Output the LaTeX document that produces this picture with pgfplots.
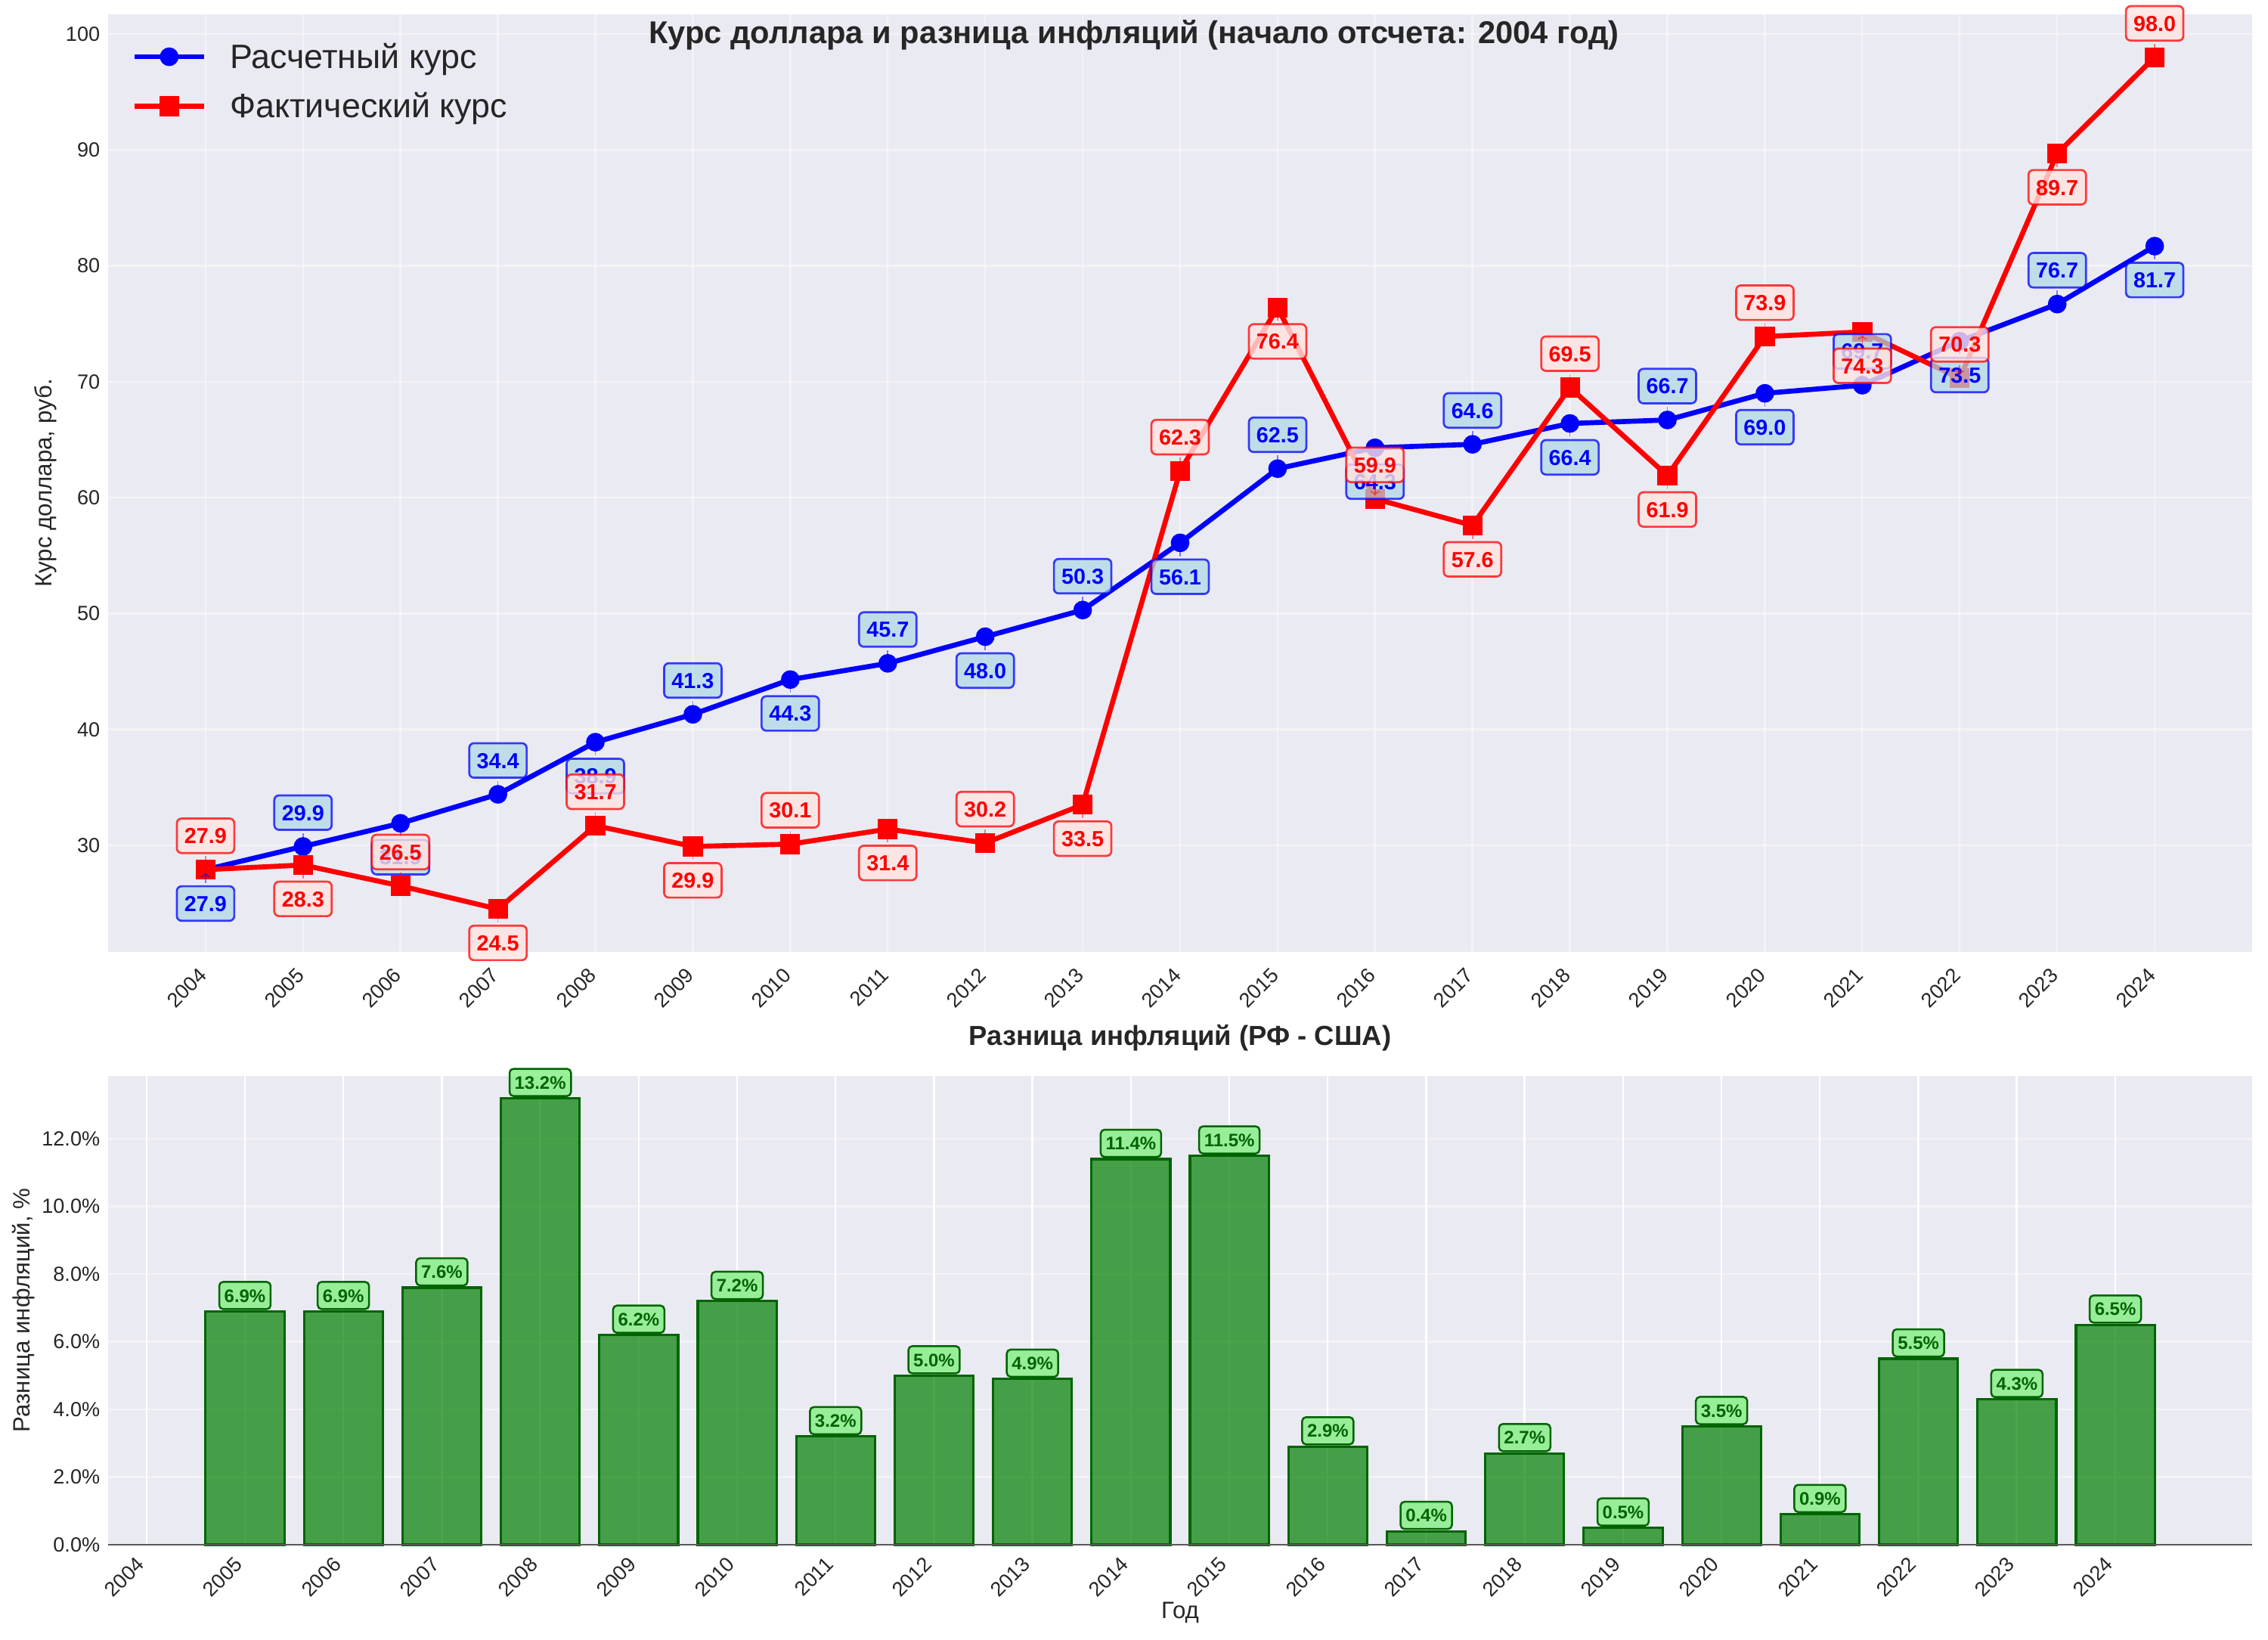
\documentclass[border=0pt]{standalone}
\usepackage{fontspec}
\setmainfont{Liberation Sans}
\usepackage{pgfplots}
\usepackage{pgfplotstable}
\pgfplotsset{compat=1.18}
\usetikzlibrary{arrows.meta}
\definecolor{bgc}{HTML}{EAEAF2}
\definecolor{tickc}{HTML}{262626}
\definecolor{lblue}{HTML}{ADD8E6}
\definecolor{mrose}{HTML}{FFE4E1}
\definecolor{lgreen}{HTML}{90EE90}
\definecolor{dgreen}{HTML}{006400}
\definecolor{mgreen}{HTML}{008000}

\pgfplotstableread{
year calc fact bpos rpos
2004 27.9 27.9 -1 1
2005 29.9 28.3 1 -1
2006 31.9 26.5 -1 1
2007 34.4 24.5 1 -1
2008 38.9 31.7 -1 1
2009 41.3 29.9 1 -1
2010 44.3 30.1 -1 1
2011 45.7 31.4 1 -1
2012 48.0 30.2 -1 1
2013 50.3 33.5 1 -1
2014 56.1 62.3 -1 1
2015 62.5 76.4 1 -1
2016 64.3 59.9 -1 1
2017 64.6 57.6 1 -1
2018 66.4 69.5 -1 1
2019 66.7 61.9 1 -1
2020 69.0 73.9 -1 1
2021 69.7 74.3 1 -1
2022 73.5 70.3 -1 1
2023 76.7 89.7 1 -1
2024 81.7 98.0 -1 1
}\ratedata

\pgfplotstableread{
year diff
2005 6.9
2006 6.9
2007 7.6
2008 13.2
2009 6.2
2010 7.2
2011 3.2
2012 5.0
2013 4.9
2014 11.4
2015 11.5
2016 2.9
2017 0.4
2018 2.7
2019 0.5
2020 3.5
2021 0.9
2022 5.5
2023 4.3
2024 6.5
}\diffdata

\tikzset{
  lbl/.style={anchor=center, font=\bfseries\fontsize{13.8}{16}\selectfont,
    rounded corners=3pt, inner xsep=4.8pt, inner ysep=6pt,
    text height=9.9pt, text depth=0pt, line width=1.3pt, text opacity=1},
}
\pgfplotsset{
  common/.style={
    scale only axis, anchor=south west,
    axis background/.style={fill=bgc},
    axis line style={draw=none}, major tick length=0pt,
    tick label style={font=\fontsize{13}{15}\selectfont, text=tickc},
    /pgf/number format/assume math mode=true,
    /pgf/number format/1000 sep={},
    xticklabel style={xshift=-5pt, yshift=-9pt, rotate=45, anchor=north east, inner sep=0pt},
    yticklabel style={anchor=east, inner sep=0pt, xshift=-5pt},
    label style={font=\fontsize{15}{18}\selectfont, text=tickc},
    clip=false,
  },
}

\begin{document}
\begin{tikzpicture}
% ---------- top panel ----------
\begin{axis}[common,
  at={(68.64pt,436.8pt)}, width=1361.3pt, height=595.2pt,
  xmin=2003, xmax=2025, ymin=20.8, ymax=101.7,
  xtick={2004,...,2024}, ytick={30,40,...,100},
  grid=major, major grid style={white, line width=1.2pt, opacity=0.45},
  ylabel={Курс доллара, руб.},
  ylabel style={at={(axis description cs:-0.0292,0.5)}, anchor=center},
  legend style={at={(axis description cs:0,1)}, anchor=north west,
    xshift=12pt, yshift=-14pt, draw=none, fill=none,
    font=\fontsize{21.5}{25}\selectfont, text=tickc, row sep=10pt,
    /tikz/every odd column/.append style={column sep=13pt}},
  legend cell align=left,
  legend image code/.code={\draw[mark repeat=2,mark phase=2] plot coordinates {(0pt,0pt) (22pt,0pt) (44pt,0pt)};},
]
\addplot[blue, line width=3.2pt, mark=*, mark size=4.3pt, mark options={solid, fill=blue}]
  table[x=year, y=calc]{\ratedata};
\addlegendentry{Расчетный курс}
\addplot[red, line width=3.2pt, mark=square*, mark size=4.7pt, mark options={solid, fill=red}]
  table[x=year, y=fact]{\ratedata};
\addlegendentry{Фактический курс}

\addplot[draw=none, mark=none, forget plot, point meta=y,
  visualization depends on={\thisrow{bpos} \as \lpos},
  nodes near coords={\pgfmathprintnumber[fixed,fixed zerofill,precision=1]{\pgfplotspointmeta}},
  every node near coord/.append style={lbl, yshift={(\lpos)*21.5pt},
    text=blue, draw=blue, draw opacity=0.75, fill=lblue, fill opacity=0.7,
    append after command={([yshift={-(\lpos)*13pt}]\tikzlastnode.center) edge[draw=blue, draw opacity=0.5, line width=0.8pt, -{To[length=3pt,width=6pt]}] ([yshift={-(\lpos)*19.5pt}]\tikzlastnode.center)}},
] table[x=year, y=calc]{\ratedata};

\addplot[draw=none, mark=none, forget plot, point meta=y,
  visualization depends on={\thisrow{rpos} \as \lpos},
  nodes near coords={\pgfmathprintnumber[fixed,fixed zerofill,precision=1]{\pgfplotspointmeta}},
  every node near coord/.append style={lbl, yshift={(\lpos)*21.5pt},
    text=red, draw=red, draw opacity=0.75, fill=mrose, fill opacity=0.8,
    append after command={([yshift={-(\lpos)*13pt}]\tikzlastnode.center) edge[draw=red, draw opacity=0.5, line width=0.8pt, -{To[length=3pt,width=6pt]}] ([yshift={-(\lpos)*19.5pt}]\tikzlastnode.center)}},
] table[x=year, y=fact]{\ratedata};
\end{axis}

% ---------- bottom panel ----------
\begin{axis}[common,
  at={(68.64pt,60.48pt)}, width=1361.3pt, height=297.6pt,
  xmin=2003.61, xmax=2025.39, ymin=0, ymax=13.86,
  xtick={2004,...,2024}, ytick={0,2,...,12},
  yticklabels={0.0\%,2.0\%,4.0\%,6.0\%,8.0\%,10.0\%,12.0\%},
  xticklabel style={yshift=3pt},
  xmajorgrids, ymajorgrids,
  x grid style={white, line width=1.2pt},
  y grid style={white, line width=1.2pt, opacity=0.45},
  ylabel={Разница инфляций, \%},
  ylabel style={at={(axis description cs:-0.0395,0.5)}, anchor=center},
  xlabel={Год},
  xlabel style={at={(axis description cs:0.5,0)}, anchor=center, yshift=-43pt},
  title={Разница инфляций (РФ - США)},
  title style={at={(axis description cs:0.5,1)}, anchor=center, yshift=18pt,
    font=\bfseries\fontsize{17.5}{20}\selectfont, text=tickc},
]
\addplot[ybar, bar width=0.8, fill=mgreen, fill opacity=0.7, draw=dgreen, line width=1.5pt,
  point meta=y,
  nodes near coords={\pgfmathprintnumber[fixed,fixed zerofill,precision=1]{\pgfplotspointmeta}\%},
  every node near coord/.append style={anchor=south, yshift=0.8pt,
    font=\bfseries\fontsize{11.5}{13}\selectfont, text=dgreen, text opacity=1,
    fill=lgreen, fill opacity=0.9, draw=dgreen, draw opacity=1, line width=1.2pt,
    rounded corners=2.5pt, inner xsep=3.2pt, inner ysep=4.5pt, text height=8.3pt, text depth=0pt},
] table[x=year, y=diff]{\diffdata};
\draw[black!65, line width=1pt] (rel axis cs:0,0) -- (rel axis cs:1,0);
\end{axis}

\node[font=\bfseries\fontsize{20}{23}\selectfont, text=tickc] at (720pt,1019pt)
  {Курс доллара и разница инфляций (начало отсчета: 2004 год)};

\pgfresetboundingbox
\path[use as bounding box] (0,0) rectangle (1440pt,1041.12pt);
\end{tikzpicture}
\end{document}
